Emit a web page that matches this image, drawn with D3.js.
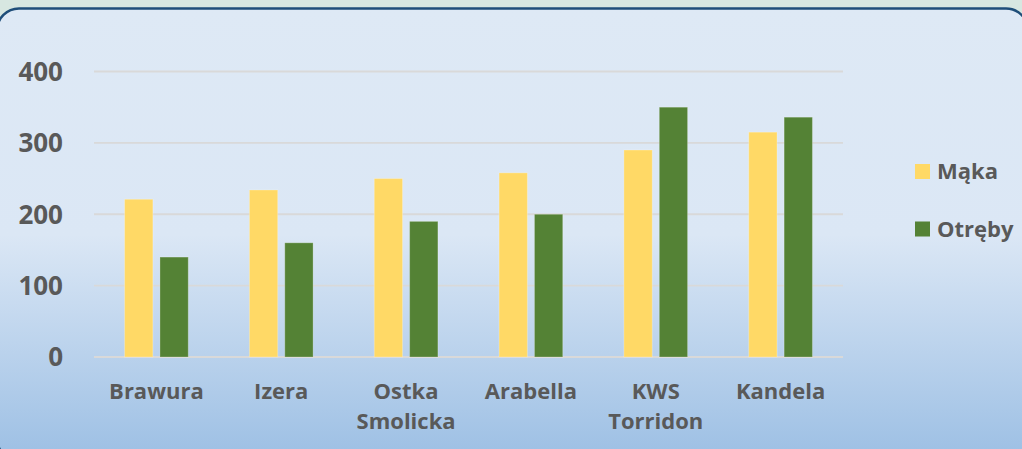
<!DOCTYPE html>
<html>
<head>
<meta charset="utf-8">
<script src="https://cdn.jsdelivr.net/npm/d3@7"></script>
<style>
  html, body { margin: 0; padding: 0; background: #d7e7e1; }
  svg { display: block; }
  text { font-family: "Open Sans", sans-serif; font-weight: bold; fill: #595959; }
</style>
</head>
<body>
<div id="chart"></div>
<script>
var width = 1022, height = 449;

// data
var categories = [["Brawura"], ["Izera"], ["Ostka", "Smolicka"], ["Arabella"], ["KWS", "Torridon"], ["Kandela"]];
var series = ["Mąka", "Otręby"];
var maka = [221, 234, 250, 258, 290, 315];
var otreby = [140, 160, 190, 200, 350, 336];
var yTicks = [0, 100, 200, 300, 400];
var colors = ["#ffd966", "#548235"];

var margin = { top: 71.5, left: 94, right: 179, bottom: 92 };

var svg = d3.select('#chart')
  .append('svg')
  .attr('width', width)
  .attr('height', height);

var defs = svg.append('defs');
var grad = defs.append('linearGradient')
  .attr('id', 'bg')
  .attr('x1', 0).attr('y1', 0).attr('x2', 0).attr('y2', 1);
grad.append('stop').attr('offset', '0%').attr('stop-color', '#dee9f5');
grad.append('stop').attr('offset', '50%').attr('stop-color', '#dbe7f5');
grad.append('stop').attr('offset', '100%').attr('stop-color', '#9cbfe4');

// panel with rounded border
svg.append('rect')
  .attr('x', -3).attr('y', 8.5)
  .attr('width', 1031).attr('height', 452)
  .attr('rx', 22).attr('ry', 22)
  .attr('fill', 'url(#bg)')
  .attr('stroke', '#1f4e79')
  .attr('stroke-width', 2.5);

var names = categories.map(function(c) { return c.join(' '); });

var x0 = d3.scaleBand()
  .domain(names)
  .range([margin.left, width - margin.right])
  .paddingInner(0.49)
  .paddingOuter(0.245);

var x1 = d3.scaleBand()
  .domain(series)
  .range([0, x0.bandwidth()])
  .paddingInner(0.2);

var y = d3.scaleLinear()
  .domain([0, 400])
  .range([357, margin.top]);

// gridlines
svg.append('g')
  .selectAll('line')
  .data(yTicks)
  .enter()
  .append('line')
  .attr('x1', margin.left)
  .attr('x2', width - margin.right)
  .attr('y1', function(d) { return y(d); })
  .attr('y2', function(d) { return y(d); })
  .attr('stroke', '#d9d9d9')
  .attr('stroke-width', 1.8);

// y labels
svg.append('g')
  .selectAll('text')
  .data(yTicks)
  .enter()
  .append('text')
  .attr('x', 63)
  .attr('y', function(d) { return y(d); })
  .attr('dy', '0.36em')
  .attr('text-anchor', 'end')
  .style('font-size', '26px')
  .text(function(d) { return d; });

// bars
var rows = names.map(function(n, i) {
  return { name: n, values: [maka[i], otreby[i]] };
});

var groups = svg.append('g')
  .selectAll('g')
  .data(rows)
  .enter()
  .append('g')
  .attr('transform', function(d) { return 'translate(' + x0(d.name) + ',0)'; });

groups.selectAll('rect')
  .data(function(d) { return d.values.map(function(v, i) { return { key: series[i], value: v, i: i }; }); })
  .enter()
  .append('rect')
  .attr('x', function(d) { return x1(d.key); })
  .attr('width', x1.bandwidth())
  .attr('y', function(d) { return y(d.value); })
  .attr('height', function(d) { return y(0) - y(d.value); })
  .attr('fill', function(d) { return colors[d.i]; })
  .attr('stroke', 'rgba(255,255,255,0.25)')
  .attr('stroke-width', 1);

// category labels
var labels = svg.append('g')
  .selectAll('text')
  .data(categories)
  .enter()
  .append('text')
  .attr('text-anchor', 'middle')
  .attr('x', function(d) { return x0(d.join(' ')) + x0.bandwidth() / 2; })
  .attr('y', 399)
  .style('font-size', '22px');

labels.selectAll('tspan')
  .data(function(d) { return d; })
  .enter()
  .append('tspan')
  .attr('x', function() { return d3.select(this.parentNode).attr('x'); })
  .attr('dy', function(d, i) { return i === 0 ? 0 : 30; })
  .text(function(d) { return d; });

// legend
var legend = svg.append('g')
  .selectAll('g')
  .data(series)
  .enter()
  .append('g')
  .attr('transform', function(d, i) { return 'translate(915,' + (164 + i * 57.5) + ')'; });

legend.append('rect')
  .attr('width', 15)
  .attr('height', 15)
  .attr('fill', function(d, i) { return colors[i]; });

legend.append('text')
  .attr('x', 22)
  .attr('y', 7.5)
  .attr('dy', '0.36em')
  .style('font-size', '22px')
  .text(function(d) { return d; });
</script>
</body>
</html>
